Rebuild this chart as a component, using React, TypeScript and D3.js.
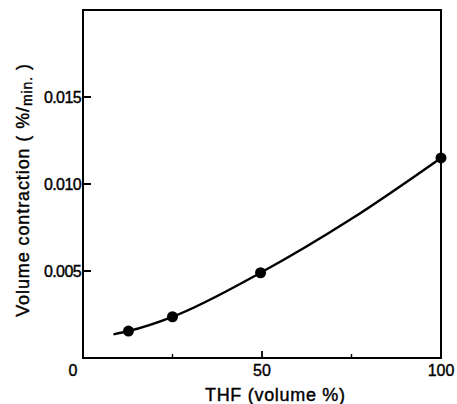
import React, { useEffect, useRef } from 'react';
import * as d3 from 'd3';

// measured points (THF volume %, contraction %/min)
const thf = [12.7, 25, 49.6, 100];
const contraction = [0.00155, 0.00237, 0.0049, 0.0115];

// smooth fitted curve as drawn in the figure
const fitX = [8.5, 12.7, 25, 49.6, 75, 100];
const fitY = [0.00136, 0.00155, 0.00237, 0.0049, 0.008, 0.0115];

const yTicks = [0.005, 0.01, 0.015];
const yTickLabels = ['0.005', '0.010', '0.015'];
const xTicks = [0, 50, 100];
const xMinorTicks = [25, 75];

const App = () => {
  const ref = useRef<SVGSVGElement | null>(null);

  useEffect(() => {
    const width = 457;
    const height = 404;
    const font = '"Liberation Sans", Arial, sans-serif';

    const svg = d3.select(ref.current);
    svg.selectAll('*').remove();
    svg.attr('width', width).attr('height', height);

    const x = d3.scaleLinear().domain([0, 100]).range([83, 441]);
    const y = d3.scaleLinear().domain([0, 0.02]).range([358, 10]);

    // frame
    svg
      .append('rect')
      .attr('x', x(0))
      .attr('y', y(0.02))
      .attr('width', x(100) - x(0))
      .attr('height', y(0) - y(0.02))
      .attr('fill', 'none')
      .attr('stroke', '#000')
      .attr('stroke-width', 2);

    // y ticks, pointing inward
    svg
      .selectAll('line.ytick')
      .data(yTicks)
      .enter()
      .append('line')
      .attr('x1', x(0))
      .attr('x2', x(0) + 8)
      .attr('y1', (d) => y(d))
      .attr('y2', (d) => y(d))
      .attr('stroke', '#000')
      .attr('stroke-width', 2);

    svg
      .selectAll('text.ytick')
      .data(yTicks)
      .enter()
      .append('text')
      .attr('x', x(0) - 2)
      .attr('y', (d) => y(d))
      .attr('dy', '0.36em')
      .attr('text-anchor', 'end')
      .style('font-family', font)
      .style('font-size', '16px')
      .style('letter-spacing', '-0.6px')
      .style('stroke', '#000')
      .style('stroke-width', 0.4)
      .text((d, i) => yTickLabels[i]);

    // x ticks
    svg
      .append('line')
      .attr('x1', x(50))
      .attr('x2', x(50))
      .attr('y1', y(0))
      .attr('y2', y(0) - 7)
      .attr('stroke', '#000')
      .attr('stroke-width', 1.8);

    svg
      .selectAll('line.xminor')
      .data(xMinorTicks)
      .enter()
      .append('line')
      .attr('x1', (d) => x(d))
      .attr('x2', (d) => x(d))
      .attr('y1', y(0))
      .attr('y2', y(0) - 4)
      .attr('stroke', '#000')
      .attr('stroke-width', 1.4);

    svg
      .selectAll('text.xtick')
      .data(xTicks)
      .enter()
      .append('text')
      .attr('x', (d) => (d === 0 ? x(0) - 10 : x(d)))
      .attr('y', y(0) + 18)
      .attr('text-anchor', 'middle')
      .style('font-family', font)
      .style('font-size', '16px')
      .style('stroke', '#000')
      .style('stroke-width', 0.4)
      .text((d) => String(d));

    // fitted curve
    const line = d3
      .line<number>()
      .x((d, i) => x(fitX[i]))
      .y((d) => y(d))
      .curve(d3.curveMonotoneX);

    svg
      .append('path')
      .datum(fitY)
      .attr('d', line)
      .attr('fill', 'none')
      .attr('stroke', '#000')
      .attr('stroke-width', 2.4);

    svg
      .selectAll('circle')
      .data(contraction)
      .enter()
      .append('circle')
      .attr('cx', (d, i) => x(thf[i]))
      .attr('cy', (d) => y(d))
      .attr('r', 5.5)
      .attr('fill', '#000');

    // axis titles
    svg
      .append('text')
      .attr('x', 275)
      .attr('y', 401)
      .attr('text-anchor', 'middle')
      .attr('textLength', 140)
      .style('font-family', font)
      .style('font-size', '18px')
      .style('stroke', '#000')
      .style('stroke-width', 0.4)
      .text('THF (volume %)');

    const yt = svg
      .append('text')
      .attr('transform', 'translate(29,190) rotate(-90)')
      .attr('text-anchor', 'middle')
      .style('font-family', font)
      .style('font-size', '18px')
      .style('letter-spacing', '0.9px')
      .style('stroke', '#000')
      .style('stroke-width', 0.4);
    yt.append('tspan').text('Volume contraction ( %/');
    yt.append('tspan').attr('dy', 3).style('font-size', '14px').text('min.');
    yt.append('tspan').attr('dy', -3).text(' )');
  }, []);

  return (
    <svg ref={ref} style={{ position: 'absolute', left: 0, top: 0, background: '#fff' }} />
  );
};

export default App;
